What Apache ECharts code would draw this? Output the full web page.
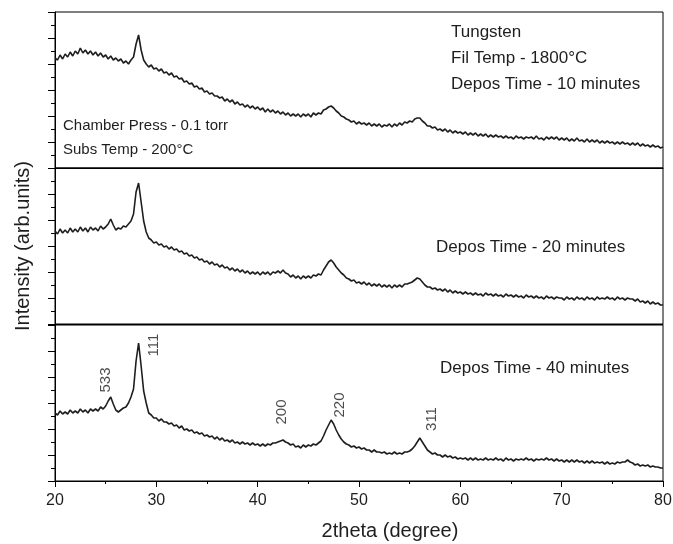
<!DOCTYPE html>
<html>
<head>
<meta charset="utf-8">
<script src="https://cdn.jsdelivr.net/npm/echarts@6/dist/echarts.min.js"></script>
<style>html,body{margin:0;padding:0;background:#fff}#c{width:673px;height:544px}</style>
</head>
<body>
<div id="c"></div>
<script>
// 2theta sampling positions (degrees)
const twoTheta = [
20,20.25,20.5,20.75,21,21.25,21.5,21.75,22,22.25,22.5,22.75,23,23.25,23.5,23.75,24,24.25,24.5,24.75,
25,25.25,25.5,25.75,26,26.25,26.5,26.75,27,27.25,27.5,27.75,28,28.25,28.5,28.75,29,29.25,29.5,29.75,
30,30.25,30.5,30.75,31,31.25,31.5,31.75,32,32.25,32.5,32.75,33,33.25,33.5,33.75,34,34.25,34.5,34.75,
35,35.25,35.5,35.75,36,36.25,36.5,36.75,37,37.25,37.5,37.75,38,38.25,38.5,38.75,39,39.25,39.5,39.75,
40,40.25,40.5,40.75,41,41.25,41.5,41.75,42,42.25,42.5,42.75,43,43.25,43.5,43.75,44,44.25,44.5,44.75,
45,45.25,45.5,45.75,46,46.25,46.5,46.75,47,47.25,47.5,47.75,48,48.25,48.5,48.75,49,49.25,49.5,49.75,
50,50.25,50.5,50.75,51,51.25,51.5,51.75,52,52.25,52.5,52.75,53,53.25,53.5,53.75,54,54.25,54.5,54.75,
55,55.25,55.5,55.75,56,56.25,56.5,56.75,57,57.25,57.5,57.75,58,58.25,58.5,58.75,59,59.25,59.5,59.75,
60,60.25,60.5,60.75,61,61.25,61.5,61.75,62,62.25,62.5,62.75,63,63.25,63.5,63.75,64,64.25,64.5,64.75,
65,65.25,65.5,65.75,66,66.25,66.5,66.75,67,67.25,67.5,67.75,68,68.25,68.5,68.75,69,69.25,69.5,69.75,
70,70.25,70.5,70.75,71,71.25,71.5,71.75,72,72.25,72.5,72.75,73,73.25,73.5,73.75,74,74.25,74.5,74.75,
75,75.25,75.5,75.75,76,76.25,76.5,76.75,77,77.25,77.5,77.75,78,78.25,78.5,78.75,79,79.25,79.5,79.75,
80
];
// Intensity (arb. units) – deposition time 10 minutes (top panel)
const intensity10min = [
110,108,113,109,114,111,116,112,117,114,120,115,118,114,117,113,116,112,115,111,
113,109,112,108,110,107,109,105,107,104,108,111,124,133,118,108,104,101,103,99,
100,97,99,95,96,93,95,91,92,89,90,86,87,84,85,81,82,79,80,76,
77,74,75,72,72,70,71,67,69,66,68,64,66,63,64,61,63,60,62,59,
61,58,60,56,59,56,58,55,57,54,56,53,55,52,54,52,54,51,54,52,
54,51,55,53,55,54,58,59,61,62,60,57,55,52,51,49,48,46,47,44,
46,44,45,43,45,42,44,42,44,41,43,42,44,41,44,42,45,43,46,45,
47,46,49,50,50,47,45,42,42,40,41,38,39,37,39,36,38,35,37,35,
36,34,36,33,35,33,35,32,34,32,34,31,33,31,33,31,32,30,32,30,
31,29,32,30,31,29,31,30,31,29,32,29,30,28,31,29,31,29,31,28,
30,28,30,27,29,27,30,27,28,26,29,26,28,26,28,25,27,25,27,25,
26,24,26,24,26,24,25,23,25,23,25,22,24,22,23,21,23,21,22,20,
21
];
// Intensity (arb. units) – deposition time 20 minutes (middle panel)
const intensity20min = [
93,90,95,91,94,91,96,92,95,92,97,93,96,92,97,94,96,93,98,95,
97,100,105,99,94,96,95,98,97,100,103,110,132,141,122,103,92,86,84,81,
82,79,80,77,78,75,77,74,75,72,73,70,71,68,69,66,67,64,65,62,
63,60,62,59,60,57,59,56,57,54,56,53,55,52,54,51,53,50,52,50,
52,49,52,50,52,49,52,51,53,51,54,51,50,47,49,46,48,45,48,46,
48,46,49,48,50,49,54,58,62,64,61,57,54,51,49,46,45,43,44,41,
42,40,42,39,41,38,40,38,40,37,39,37,39,36,39,37,39,37,40,40,
41,42,44,46,45,42,39,37,37,35,36,34,35,33,35,32,34,31,33,31,
32,30,32,30,31,29,31,29,30,28,31,29,30,28,30,28,29,27,30,28,
29,27,29,27,28,26,29,27,28,26,28,26,27,25,28,26,27,25,27,26,
26,24,27,25,26,24,27,25,26,24,27,25,26,24,27,25,26,25,27,25,
26,24,27,25,26,24,26,25,25,23,25,22,23,21,23,20,22,20,21,19,
19
];
// Intensity (arb. units) – deposition time 40 minutes (bottom panel)
const intensity40min = [
68,66,70,67,69,67,71,68,70,68,72,69,71,68,72,70,72,70,74,72,
75,80,84,77,71,69,71,73,74,78,84,92,120,138,115,90,78,68,66,63,
63,60,62,59,59,57,58,55,56,53,55,51,52,50,51,48,49,47,48,45,
46,44,45,42,44,41,43,40,41,39,41,38,39,37,39,37,38,36,38,36,
37,35,37,35,37,36,38,38,39,40,41,39,38,36,37,34,35,33,36,34,
36,35,37,36,38,40,45,51,56,61,57,51,46,42,39,37,36,34,35,33,
34,32,33,31,31,29,31,29,29,28,29,27,28,27,29,27,28,27,29,29,
30,32,35,39,43,39,35,31,29,27,28,26,26,24,26,24,25,23,24,22,
23,22,23,21,23,21,23,21,22,21,23,21,22,21,23,21,22,20,23,21,
22,20,22,21,22,21,23,21,22,20,22,21,22,21,23,21,22,20,22,20,
21,19,21,19,21,19,21,19,20,18,20,18,20,18,19,18,19,17,19,17,
18,17,19,18,19,19,21,19,18,16,17,15,16,15,16,14,15,14,14,13,
13
];
// Peak (hkl) annotations in the 40-minute panel
const peakHkl = ['533', '111', '200', '220', '311'];
const peakAngle = [25.0, 29.8, 42.4, 48.1, 57.2];
const peakLabelLevel = [101, 136, 69, 76, 62];

const FONT = "'Liberation Sans', Arial, sans-serif";
const INK = '#1e1e1e';
const panels = [intensity10min, intensity20min, intensity40min];
const panelTops = [12, 168, 325];

const chart = echarts.init(document.getElementById('c'), null, {renderer: 'canvas'});

const grids = panelTops.map(t => ({
  left: 55, right: 10, top: t, height: 156,
  show: true, borderColor: '#000', borderWidth: 1, backgroundColor: 'transparent',
  outerBoundsMode: 'none', containLabel: false
}));

const xAxes = panelTops.map((t, i) => {
  const last = i === panelTops.length - 1;
  return {
    type: 'value', gridIndex: i, min: 20, max: 80, interval: 10,
    axisLine: {show: true, onZero: false, lineStyle: {color: '#000', width: 1}},
    axisTick: {show: last, inside: false, length: 6, lineStyle: {color: '#000'}},
    minorTick: {show: last, splitNumber: 2, length: 3, lineStyle: {color: '#000'}},
    axisLabel: {show: last, color: INK, fontSize: 16, fontFamily: FONT, margin: 12},
    splitLine: {show: false}, minorSplitLine: {show: false},
    name: last ? '2theta (degree)' : '',
    nameLocation: 'middle', nameGap: 40,
    nameTextStyle: {color: INK, fontSize: 20, fontFamily: FONT, padding: [0, 0, 0, 62]}
  };
});

const yAxes = panelTops.map((t, i) => ({
  type: 'value', gridIndex: i, min: 0, max: 156, interval: 26,
  axisLine: {show: true, onZero: false, lineStyle: {color: '#000', width: 1}},
  axisTick: {show: true, inside: false, length: 7, lineStyle: {color: '#000'}},
  minorTick: {show: true, splitNumber: 2, length: 4, lineStyle: {color: '#000'}},
  axisLabel: {show: false},
  splitLine: {show: false}, minorSplitLine: {show: false},
  name: i === 1 ? 'Intensity (arb.units)' : '',
  nameLocation: 'middle', nameGap: 22,
  nameTextStyle: {color: INK, fontSize: 20, fontFamily: FONT}
}));

const lineSeries = panels.map((vals, i) => ({
  type: 'line', xAxisIndex: i, yAxisIndex: i,
  data: twoTheta.map((t, k) => [t, vals[k]]),
  showSymbol: false, symbol: 'none', silent: true,
  lineStyle: {color: INK, width: 1.6},
  z: 3
}));

const peakSeries = {
  type: 'scatter', xAxisIndex: 2, yAxisIndex: 2, symbolSize: 0, silent: true,
  data: peakHkl.map((h, k) => ({name: h, value: [peakAngle[k], peakLabelLevel[k]]})),
  label: {
    show: true, position: 'inside', rotate: 90, formatter: p => p.name,
    color: INK, fontSize: 15, fontFamily: FONT
  }
};

function txt(text, x, y, size) {
  return {
    type: 'text', x: x, y: y, silent: true, z: 10,
    style: {text: text, fill: INK, fontSize: size, fontFamily: FONT, align: 'left', verticalAlign: 'middle'}
  };
}

chart.setOption({
  animation: false,
  backgroundColor: '#fff',
  grid: grids,
  xAxis: xAxes,
  yAxis: yAxes,
  series: lineSeries.concat([peakSeries]),
  graphic: [
    txt('Tungsten', 451, 32, 17),
    txt('Fil Temp - 1800°C', 451, 58, 17),
    txt('Depos Time - 10 minutes', 451, 84, 17),
    txt('Chamber Press - 0.1 torr', 63, 126, 15),
    txt('Subs Temp - 200°C', 63, 150, 15),
    txt('Depos Time - 20 minutes', 436, 247, 17),
    txt('Depos Time - 40 minutes', 440, 368, 17)
  ]
});
</script>
</body>
</html>
